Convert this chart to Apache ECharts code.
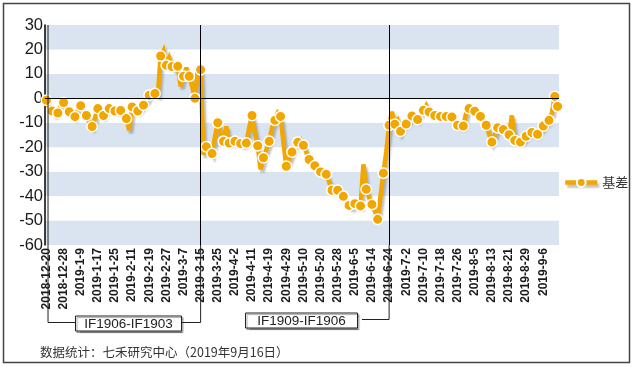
<!DOCTYPE html>
<html><head><meta charset="utf-8">
<script src="https://cdn.jsdelivr.net/npm/echarts@6/dist/echarts.min.js"></script>
<style>html,body{margin:0;padding:0;background:#fff}#c{width:634px;height:367px}</style>
</head><body><div id="c"></div>
<script>
const dates = [
'2018-12-20','2018-12-21','2018-12-24','2018-12-25','2018-12-26','2018-12-27','2018-12-28',
'2019-1-2','2019-1-3','2019-1-4','2019-1-7','2019-1-8','2019-1-9','2019-1-10','2019-1-11','2019-1-14','2019-1-15','2019-1-16','2019-1-17','2019-1-18','2019-1-21','2019-1-22','2019-1-23','2019-1-24','2019-1-25','2019-1-28','2019-1-29','2019-1-30','2019-1-31',
'2019-2-1','2019-2-11','2019-2-12','2019-2-13','2019-2-14','2019-2-15','2019-2-18','2019-2-19','2019-2-20','2019-2-21','2019-2-22','2019-2-25','2019-2-26','2019-2-27','2019-2-28',
'2019-3-1','2019-3-4','2019-3-5','2019-3-6','2019-3-7','2019-3-8','2019-3-11','2019-3-12','2019-3-13','2019-3-14','2019-3-15','2019-3-18','2019-3-19','2019-3-20','2019-3-21','2019-3-22','2019-3-25','2019-3-26','2019-3-27','2019-3-28','2019-3-29',
'2019-4-1','2019-4-2','2019-4-3','2019-4-4','2019-4-8','2019-4-9','2019-4-10','2019-4-11','2019-4-12','2019-4-15','2019-4-16','2019-4-17','2019-4-18','2019-4-19','2019-4-22','2019-4-23','2019-4-24','2019-4-25','2019-4-26','2019-4-29','2019-4-30',
'2019-5-6','2019-5-7','2019-5-8','2019-5-9','2019-5-10','2019-5-13','2019-5-14','2019-5-15','2019-5-16','2019-5-17','2019-5-20','2019-5-21','2019-5-22','2019-5-23','2019-5-24','2019-5-27','2019-5-28','2019-5-29','2019-5-30','2019-5-31',
'2019-6-3','2019-6-4','2019-6-5','2019-6-6','2019-6-10','2019-6-11','2019-6-12','2019-6-13','2019-6-14','2019-6-17','2019-6-18','2019-6-19','2019-6-20','2019-6-21','2019-6-24','2019-6-25','2019-6-26','2019-6-27','2019-6-28',
'2019-7-1','2019-7-2','2019-7-3','2019-7-4','2019-7-5','2019-7-8','2019-7-9','2019-7-10','2019-7-11','2019-7-12','2019-7-15','2019-7-16','2019-7-17','2019-7-18','2019-7-19','2019-7-22','2019-7-23','2019-7-24','2019-7-25','2019-7-26','2019-7-29','2019-7-30','2019-7-31',
'2019-8-1','2019-8-2','2019-8-5','2019-8-6','2019-8-7','2019-8-8','2019-8-9','2019-8-12','2019-8-13','2019-8-14','2019-8-15','2019-8-16','2019-8-19','2019-8-20','2019-8-21','2019-8-22','2019-8-23','2019-8-26','2019-8-27','2019-8-28','2019-8-29','2019-8-30',
'2019-9-2','2019-9-3','2019-9-4','2019-9-5','2019-9-6','2019-9-9','2019-9-10','2019-9-11','2019-9-12','2019-9-16'
];
const basis = [
-0.8,-4,-5.2,-6.5,-6,-3,-1.7,-4,-5.5,-6.5,
-7.5,-5,-3,-5,-7,-10,-11.5,-8,-4.2,-5.5,
-7,-5,-4.2,-4.5,-5.2,-5,-5,-6,-8.3,-13,
-3.5,-4,-5.2,-4,-2.8,-1,1.3,2,2,1.5,
17.3,19.5,13.5,16.5,13,12,13.1,5,9,12.5,
9,5,0,12,11.7,-23,-19.8,-20.5,-22.6,-16,
-10,-14,-17.6,-11.5,-18.3,-18,-17.6,-18,-18.5,-19,
-18.3,-12,-7,-14,-19.4,-29,-24.3,-21,-17.6,-12,
-9,-6,-7.4,-18,-27.8,-25,-22,-19,-18,-17,
-19.2,-22,-25,-26,-27.6,-29,-30.1,-30.5,-31.1,-34,
-37.6,-37.8,-37.6,-39,-40.1,-42,-43.8,-44.5,-43.1,-43.5,
-44,-27,-37.2,-40.5,-43.4,-46,-49.5,-40,-30.6,-22,
-11,-5.5,-10.6,-9,-13.5,-11,-10.5,-9,-7.2,-8,
-8.7,-6,-4.9,-3,-5.6,-6.5,-7,-7,-7.4,-7.4,
-7.4,-7.2,-7.6,-9,-11,-11.5,-11.3,-6,-4.2,-3.5,
-5.3,-6,-7.4,-9,-11,-14.5,-17.9,-15,-12,-12.5,
-12.8,-13.5,-14.9,-7,-17.2,-17.5,-17.9,-17,-15.5,-14.5,
-14,-14.5,-14.7,-13,-11.3,-10,-9,-6,0.8,-3.3
];
const yMin = -60, yMax = 30, yStep = 10;
const seriesName = '基差';
const rollDates = ['2019-3-15', '2019-6-24'];
const contractLabels = ['IF1906-IF1903', 'IF1909-IF1906'];
const footnote = '数据统计：七禾研究中心（2019年9月16日）';

const ORANGE = '#F2A600';
const FONT = 'Liberation Sans, Arial, sans-serif';
const chart = echarts.init(document.getElementById('c'), null, {renderer: 'canvas'});

const seriesData = basis.map((v, i) =>
  (i % 2 === 0 || i === basis.length - 1) ? v : {value: v, symbol: 'none'});

const lineShadow = {shadowColor: 'rgba(80,80,80,0.35)', shadowOffsetX: 2, shadowOffsetY: 3, shadowBlur: 2};

chart.setOption({
  animation: false,
  grid: {left: 45, top: 25, width: 514, height: 220},
  xAxis: {
    type: 'category', data: dates, boundaryGap: true,
    axisLine: {show: false}, axisTick: {show: false}, splitLine: {show: false},
    axisLabel: {interval: 5, rotate: 90, fontSize: 12, fontWeight: 'bold', color: '#1a1a1a', fontFamily: FONT, margin: 3}
  },
  yAxis: {
    type: 'value', min: yMin, max: yMax, interval: yStep,
    axisLine: {show: true, lineStyle: {color: '#000', width: 1.5}},
    axisTick: {show: false}, splitLine: {show: false},
    axisLabel: {fontSize: 16.5, color: '#1a1a1a', fontFamily: FONT, margin: 2},
    splitArea: {show: true, areaStyle: {color: ['#dae4f0', '#ffffff']}}
  },
  legend: {
    data: [seriesName], left: 558, top: 171, itemWidth: 32, itemHeight: 11, itemGap: 4,
    lineStyle: Object.assign({width: 4.5, color: ORANGE}, lineShadow),
    textStyle: {fontSize: 13, color: '#333', fontFamily: 'Noto Sans CJK SC'}
  },
  series: [{
    name: seriesName, type: 'line', data: seriesData,
    showAllSymbol: true, symbol: 'circle', symbolSize: 10.5,
    lineStyle: Object.assign({color: ORANGE, width: 4.5, join: 'miter', miterLimit: 3}, lineShadow),
    itemStyle: {color: ORANGE, borderColor: '#fff', borderWidth: 1.5},
    markLine: {
      silent: true, symbol: 'none', label: {show: false}, animation: false,
      lineStyle: {color: '#000', width: 1, type: 'solid'},
      data: [{yAxis: 0}, {xAxis: rollDates[0]}, {xAxis: rollDates[1]}]
    }
  }]
});

const x0 = chart.convertToPixel({xAxisIndex: 0}, dates[0]) + 1.6;
const x1 = chart.convertToPixel({xAxisIndex: 0}, rollDates[0]);
const x2 = chart.convertToPixel({xAxisIndex: 0}, rollDates[1]);
const yTop = chart.convertToPixel({yAxisIndex: 0}, yMax);
const yBot = chart.convertToPixel({yAxisIndex: 0}, yMin);
const lineSt = {stroke: '#222', lineWidth: 1, fill: null};
const boxSt = {stroke: '#222', lineWidth: 1, fill: '#fff', shadowColor: 'rgba(0,0,0,0.35)', shadowOffsetX: 1.5, shadowOffsetY: 1.5, shadowBlur: 1};
const txtSt = (t, x, y) => ({type: 'text', x, y, z: 20, style: {text: t, fontSize: 13.5, fontFamily: FONT, fill: '#222', align: 'center', verticalAlign: 'middle'}});

chart.setOption({
  graphic: [
    {type: 'polyline', shape: {points: [[x0, yTop], [x0, 322.5], [75, 322.5]]}, style: lineSt, z: 5},
    {type: 'rect', shape: {x: 75.5, y: 316, width: 106, height: 15}, style: boxSt, z: 5},
    txtSt(contractLabels[0], 128.5, 324),
    {type: 'polyline', shape: {points: [[182, 322.5], [x1, 322.5], [x1, yBot]]}, style: lineSt, z: 5},
    {type: 'rect', shape: {x: 245.5, y: 313, width: 112, height: 15}, style: boxSt, z: 5},
    txtSt(contractLabels[1], 301.5, 321),
    {type: 'polyline', shape: {points: [[362, 319.5], [x2, 319.5], [x2, yBot]]}, style: lineSt, z: 5},
    {type: 'text', x: 40, y: 352, z: 20, style: {text: footnote, fontSize: 12.5, fontFamily: 'Noto Sans CJK SC', fill: '#333', verticalAlign: 'middle'}},
    {type: 'rect', shape: {x: 3.5, y: 3.5, width: 626, height: 359}, style: {stroke: '#444', lineWidth: 1.5, fill: null}, z: 10}
  ]
});
</script></body></html>
